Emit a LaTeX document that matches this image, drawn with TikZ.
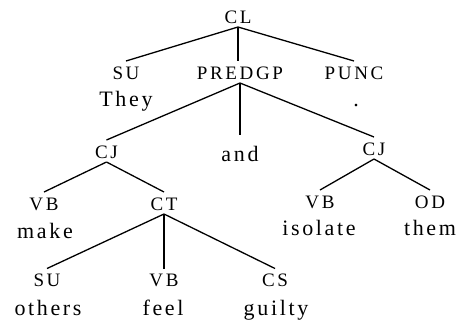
\documentclass[tikz,border=0pt]{standalone}
\usepackage{fontspec}
\newfontfamily\labfont[LetterSpace=14]{Liberation Serif}
\newfontfamily\wordfont[LetterSpace=12]{Liberation Serif}
\begin{document}
\begin{tikzpicture}[x=1pt,y=-1pt,
  lab/.style={font=\labfont\fontsize{19}{21}\selectfont, anchor=base, inner sep=0pt,
    text height=14pt, text depth=0pt, outer ysep=4pt, outer xsep=0pt},
  word/.style={font=\wordfont\fontsize{22}{25}\selectfont, anchor=base, inner sep=0pt},
  edge/.style={line width=1.3pt}]
\useasboundingbox[fill=white] (0,0) rectangle (458,325);
% labels
\node[lab] (cl) at (238,23) {CL};
\node[lab] (su1) at (126,79) {SU};
\node[lab] (predgp) at (240,79) {PREDGP};
\node[lab] (punc) at (354,79) {PUNC};
\node[word] (they) at (126,106) {They};
\node[word] (dot) at (356,106) {.};
\node[lab] (cjl) at (106.5,158) {CJ};
\node[word, text height=22pt, text depth=0pt, outer ysep=4pt] (and) at (240,161) {and};
\node[lab] (cjr) at (374,155) {CJ};
\node[lab] (vbl) at (44,210) {VB};
\node[lab] (ct) at (164,210) {CT};
\node[word] (make) at (45,238) {make};
\node[lab] (vbr) at (320,208) {VB};
\node[lab] (od) at (430,208) {OD};
\node[word] (isolate) at (319,235) {isolate};
\node[word] (them) at (430,235) {them};
\node[lab] (su2) at (47,286.5) {SU};
\node[lab] (vb3) at (164,286.5) {VB};
\node[lab] (cs) at (275,286.5) {CS};
\node[word] (others) at (48,315) {others};
\node[word] (feel) at (163,315) {feel};
\node[word] (guilty) at (276,315) {guilty};
% connectors
\draw[edge] (cl.south) -- (su1.north);
\draw[edge] (cl.south) -- (cl.south |- predgp.north);
\draw[edge] (cl.south) -- (punc.north);
\draw[edge] (predgp.south) -- (cjl.north);
\draw[edge] (predgp.south) -- (predgp.south |- and.north);
\draw[edge] (predgp.south) -- (cjr.north);
\draw[edge] (cjl.south) -- (vbl.north);
\draw[edge] (cjl.south) -- (ct.north);
\draw[edge] (cjr.south) -- (vbr.north);
\draw[edge] (cjr.south) -- (od.north);
\draw[edge] (ct.south) -- (su2.north);
\draw[edge] (ct.south) -- (ct.south |- vb3.north);
\draw[edge] (ct.south) -- (cs.north);
\end{tikzpicture}
\end{document}
